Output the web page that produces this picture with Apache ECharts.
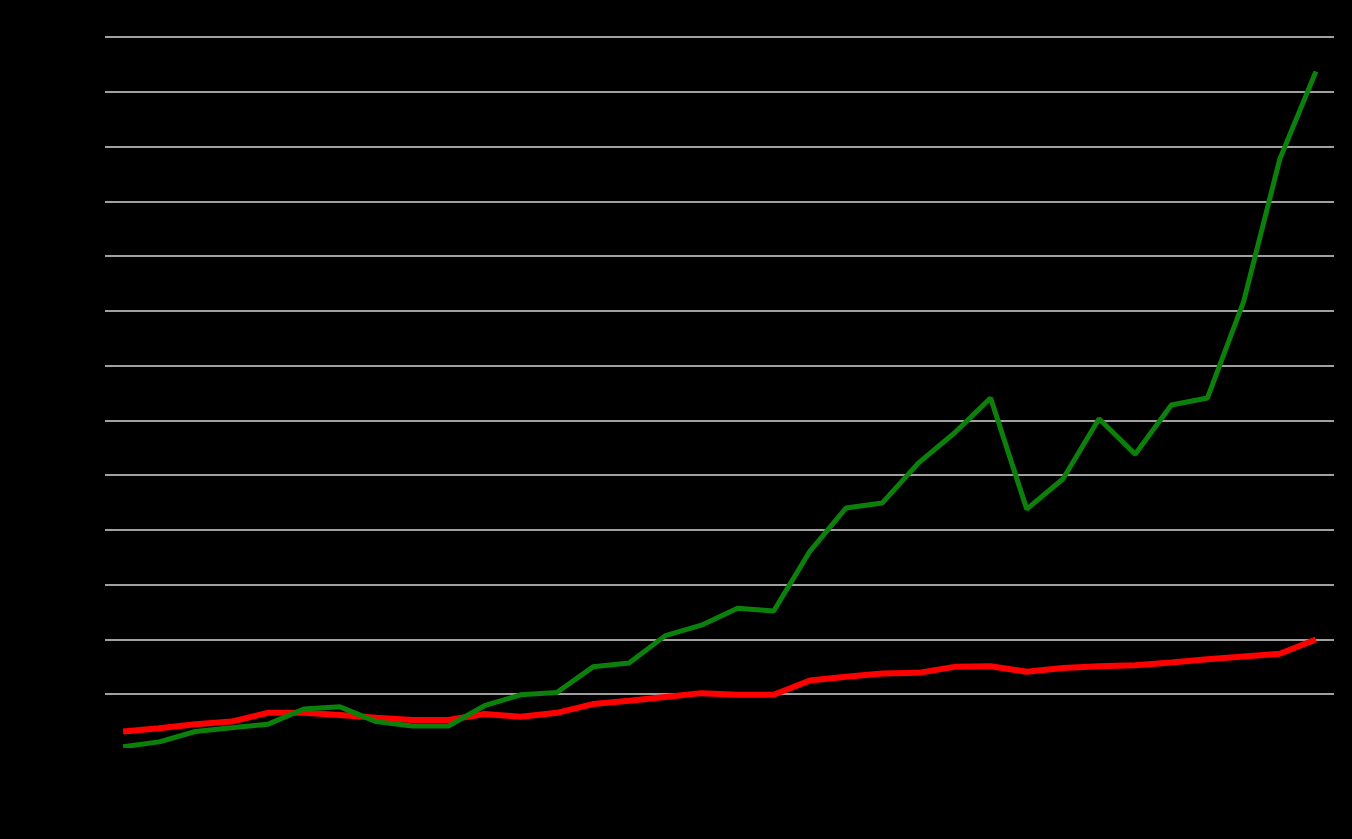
<!DOCTYPE html>
<html>
<head>
<meta charset="utf-8">
<script src="https://cdn.jsdelivr.net/npm/echarts@6/dist/echarts.min.js"></script>
<style>
html,body{margin:0;padding:0;background:#000;}
#chart{width:1352px;height:839px;}
</style>
</head>
<body>
<div id="chart"></div>
<script>
var categories = ['1980','1981','1982','1983','1984','1985','1986','1987','1988','1989','1990','1991','1992','1993','1994','1995','1996','1997','1998','1999','2000','2001','2002','2003','2004','2005','2006','2007','2008','2009','2010','2011','2012','2013'];
var greenValues = [4,13,32,39,45,73,77,50,42,42,79,99,103,150,157,207,226,257,252,361,440,449,522,577,641,438,493,603,538,628,641,817,1077,1237];
var redValues = [32,38,45,50,66,66,62,57,53,53,64,59,66,82,88,95,102,99,99,125,132,138,139,150,151,141,148,151,153,158,164,169,174,200];
var yTicks = {min:0, max:1300, interval:100};

var chart = echarts.init(document.getElementById('chart'));
chart.setOption({
  backgroundColor:'#000000',
  animation:false,
  grid:{left:105,right:18,top:37,bottom:90,outerBoundsMode:'none'},
  xAxis:{
    type:'category',
    data:categories,
    boundaryGap:true,
    axisLine:{show:true,lineStyle:{color:'#000000',width:3}},
    axisTick:{show:false},
    axisLabel:{color:'#000000',fontFamily:'Liberation Sans',fontSize:14},
    z:5
  },
  yAxis:{
    type:'value',
    min:yTicks.min,max:yTicks.max,interval:yTicks.interval,
    axisLine:{show:false},
    axisTick:{show:false},
    axisLabel:{color:'#000000',fontFamily:'Liberation Sans',fontSize:14},
    splitLine:{show:true,showMinLine:false,lineStyle:{color:'#a0a0a0',width:2}}
  },
  series:[
    {name:'Green',type:'line',data:greenValues,symbol:'none',smooth:false,
     lineStyle:{color:'#0b800b',width:5},itemStyle:{color:'#0b800b'},z:3},
    {name:'Red',type:'line',data:redValues,symbol:'none',smooth:false,
     lineStyle:{color:'#ff0000',width:6},itemStyle:{color:'#ff0000'},z:2}
  ]
});
</script>
</body>
</html>
